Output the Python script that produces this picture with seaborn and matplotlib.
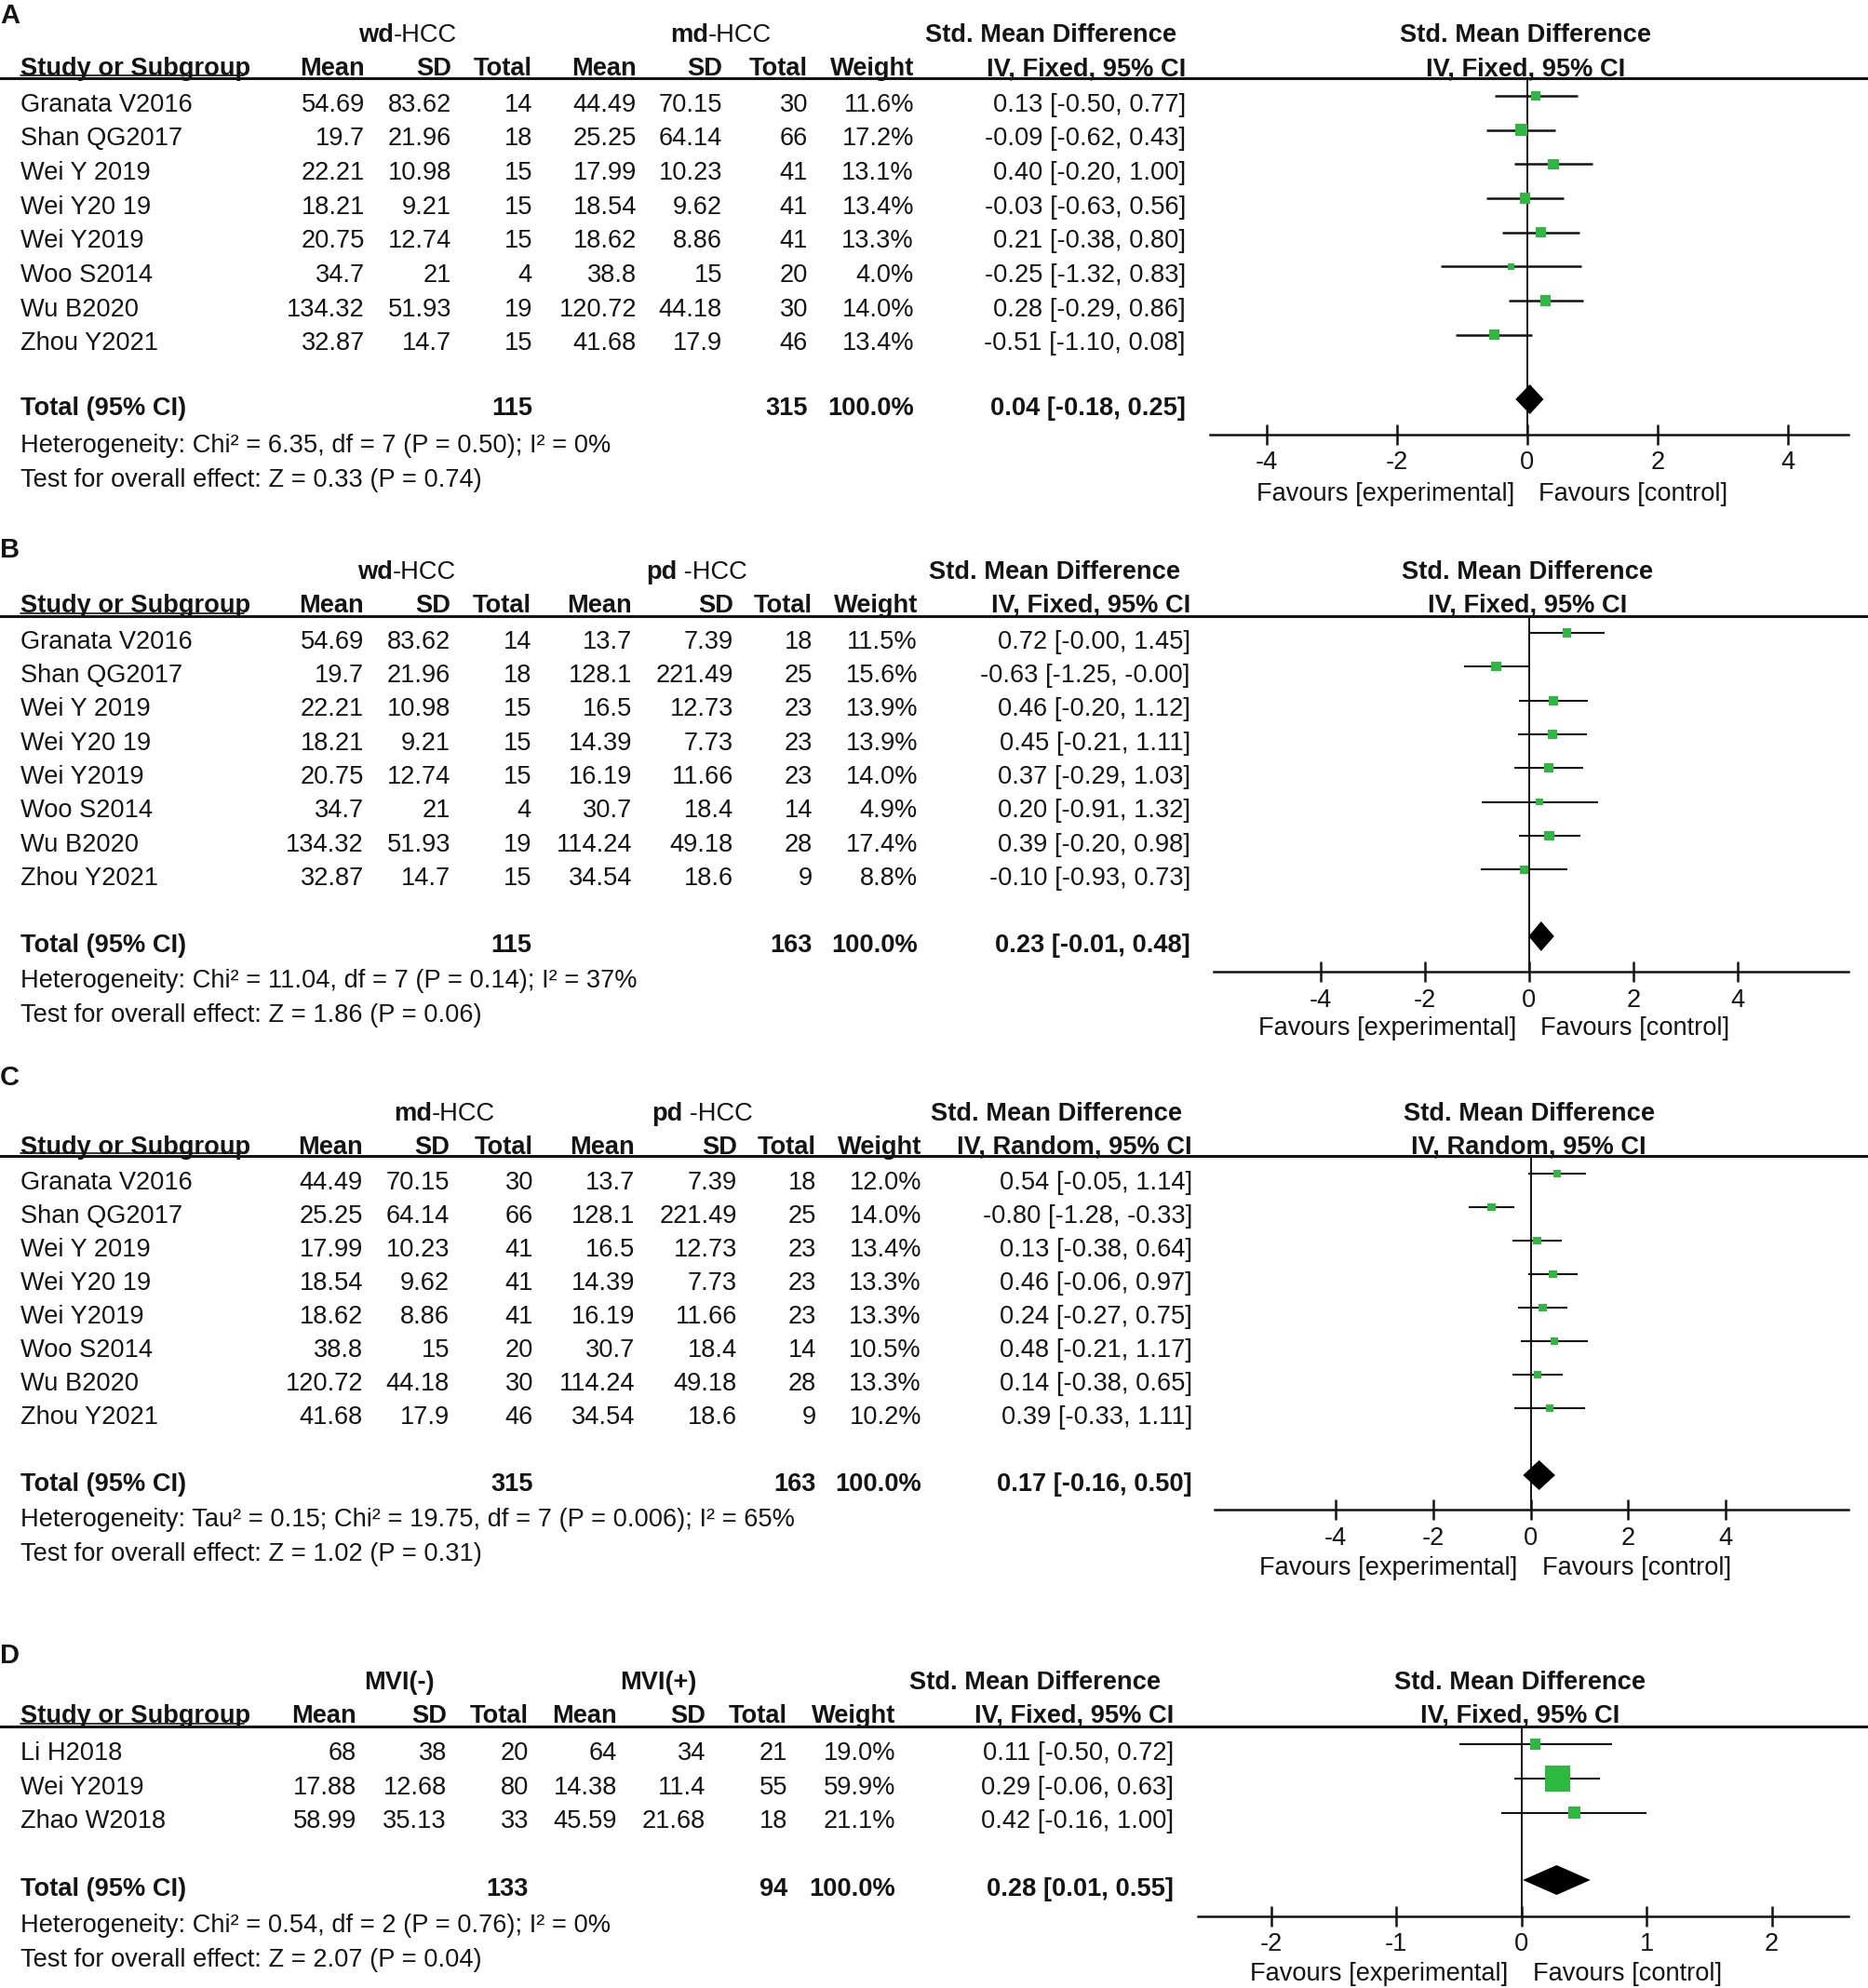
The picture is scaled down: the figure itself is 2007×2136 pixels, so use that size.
import numpy as np
import pandas as pd
import seaborn as sns
import matplotlib.pyplot as plt

sns.set_theme(style="white")
plt.rcParams["font.family"] = ["Liberation Sans", "DejaVu Sans"]
plt.rcParams["axes.unicode_minus"] = False

# ---------------- data ----------------
studies = ["Granata V2016", "Shan QG2017", "Wei Y 2019", "Wei Y20 19",
           "Wei Y2019", "Woo S2014", "Wu B2020", "Zhou Y2021"]

wd_mean = [54.69, 19.7, 22.21, 18.21, 20.75, 34.7, 134.32, 32.87]
wd_sd = [83.62, 21.96, 10.98, 9.21, 12.74, 21, 51.93, 14.7]
wd_n = [14, 18, 15, 15, 15, 4, 19, 15]

md_mean = [44.49, 25.25, 17.99, 18.54, 18.62, 38.8, 120.72, 41.68]
md_sd = [70.15, 64.14, 10.23, 9.62, 8.86, 15, 44.18, 17.9]
md_n = [30, 66, 41, 41, 41, 20, 30, 46]

pd_mean = [13.7, 128.1, 16.5, 14.39, 16.19, 30.7, 114.24, 34.54]
pd_sd = [7.39, 221.49, 12.73, 7.73, 11.66, 18.4, 49.18, 18.6]
pd_n = [18, 25, 23, 23, 23, 14, 28, 9]

# A: wd vs md
a_weight = [11.6, 17.2, 13.1, 13.4, 13.3, 4.0, 14.0, 13.4]
a_smd = [0.13, -0.09, 0.40, -0.03, 0.21, -0.25, 0.28, -0.51]
a_lo = [-0.50, -0.62, -0.20, -0.63, -0.38, -1.32, -0.29, -1.10]
a_hi = [0.77, 0.43, 1.00, 0.56, 0.80, 0.83, 0.86, 0.08]
a_total = [0.04, -0.18, 0.25]
a_het = "Heterogeneity: Chi\u00b2 = 6.35, df = 7 (P = 0.50); I\u00b2 = 0%"
a_test = "Test for overall effect: Z = 0.33 (P = 0.74)"

# B: wd vs pd
b_weight = [11.5, 15.6, 13.9, 13.9, 14.0, 4.9, 17.4, 8.8]
b_smd = [0.72, -0.63, 0.46, 0.45, 0.37, 0.20, 0.39, -0.10]
b_lo = [-0.0, -1.25, -0.20, -0.21, -0.29, -0.91, -0.20, -0.93]
b_hi = [1.45, -0.0, 1.12, 1.11, 1.03, 1.32, 0.98, 0.73]
b_total = [0.23, -0.01, 0.48]
b_het = "Heterogeneity: Chi\u00b2 = 11.04, df = 7 (P = 0.14); I\u00b2 = 37%"
b_test = "Test for overall effect: Z = 1.86 (P = 0.06)"

# C: md vs pd
c_weight = [12.0, 14.0, 13.4, 13.3, 13.3, 10.5, 13.3, 10.2]
c_smd = [0.54, -0.80, 0.13, 0.46, 0.24, 0.48, 0.14, 0.39]
c_lo = [-0.05, -1.28, -0.38, -0.06, -0.27, -0.21, -0.38, -0.33]
c_hi = [1.14, -0.33, 0.64, 0.97, 0.75, 1.17, 0.65, 1.11]
c_total = [0.17, -0.16, 0.50]
c_het = "Heterogeneity: Tau\u00b2 = 0.15; Chi\u00b2 = 19.75, df = 7 (P = 0.006); I\u00b2 = 65%"
c_test = "Test for overall effect: Z = 1.02 (P = 0.31)"

# D: MVI(-) vs MVI(+)
d_studies = ["Li H2018", "Wei Y2019", "Zhao W2018"]
mvin_mean = [68, 17.88, 58.99]
mvin_sd = [38, 12.68, 35.13]
mvin_n = [20, 80, 33]
mvip_mean = [64, 14.38, 45.59]
mvip_sd = [34, 11.4, 21.68]
mvip_n = [21, 55, 18]
d_weight = [19.0, 59.9, 21.1]
d_smd = [0.11, 0.29, 0.42]
d_lo = [-0.50, -0.06, -0.16]
d_hi = [0.72, 0.63, 1.00]
d_total = [0.28, 0.01, 0.55]
d_het = "Heterogeneity: Chi\u00b2 = 0.54, df = 2 (P = 0.76); I\u00b2 = 0%"
d_test = "Test for overall effect: Z = 2.07 (P = 0.04)"

# ---------------- figure ----------------
W, H = 2008, 2136
INK = "#141414"
GREEN = "#2db83f"
FS = 19.6
CAP = 9.7

fig = plt.figure(figsize=(W / 100, H / 100), dpi=100)
bg = fig.add_axes([0, 0, 1, 1])
bg.set_xlim(0, W)
bg.set_ylim(H, 0)
bg.axis("off")


def txt(x, y, s, ha="right", bold=False, size=FS):
    bg.text(x, y + CAP, s, ha=ha, va="baseline", fontsize=size,
            fontweight="bold" if bold else "normal", color=INK)


def num(v):
    return f"{v:g}"


def panel(lay, names, g1, g2, weight, smd, lo, hi, total, het, test):
    cols = lay["cols"]
    n = len(names)
    # panel letter and headers
    txt(0, lay["label_y"], lay["label"], ha="left", bold=True, size=21)
    for split in (lay["g1"], lay["g2"]):
        if len(split) == 2:
            txt(split[0], lay["group_y"], split[1], ha="center", bold=True)
        else:
            txt(split[0], lay["group_y"], split[1], ha="right", bold=True)
            txt(split[0], lay["group_y"], split[2], ha="left")
    txt(lay["smd_x"], lay["group_y"], "Std. Mean Difference", ha="center", bold=True)
    txt(22, lay["col_y"], "Study or Subgroup", ha="left", bold=True)
    for x, h in zip(cols, ["Mean", "SD", "Total", "Mean", "SD", "Total", "Weight",
                           lay["method"]]):
        txt(x, lay["col_y"], h, bold=True)
    bg.plot([22, 262], [lay["line_y"] - 3] * 2, color=INK, lw=1.2)
    bg.plot([0, W], [lay["line_y"]] * 2, color=INK, lw=2.2)

    # rows
    for i in range(n):
        y = lay["row0"] + i * lay["sp"]
        txt(22, y, names[i], ha="left")
        vals = [num(g1[0][i]), num(g1[1][i]), str(g1[2][i]),
                num(g2[0][i]), num(g2[1][i]), str(g2[2][i]),
                f"{weight[i]:.1f}%", f"{smd[i]:.2f} [{lo[i]:.2f}, {hi[i]:.2f}]"]
        for x, v in zip(cols, vals):
            txt(x, y, v)

    ty = lay["total_y"]
    txt(22, ty, "Total (95% CI)", ha="left", bold=True)
    txt(cols[2], ty, str(sum(g1[2])), bold=True)
    txt(cols[5], ty, str(sum(g2[2])), bold=True)
    txt(cols[6], ty, f"{sum(weight):.1f}%", bold=True)
    txt(cols[7], ty, f"{total[0]:.2f} [{total[1]:.2f}, {total[2]:.2f}]", bold=True)
    txt(22, lay["het_y"], het, ha="left")
    txt(22, lay["test_y"], test, ha="left")

    # forest plot
    x0, x1 = lay["fx"]
    top, bot = lay["line_y"], lay["axis_y"]
    ax = fig.add_axes([x0 / W, 1 - bot / H, (x1 - x0) / W, (bot - top) / H])
    ax.patch.set_alpha(0)
    sp = lay["sp"]
    mrow0 = lay["row0"] - 7
    df = pd.DataFrame({"smd": smd, "lo": lo, "hi": hi, "weight": weight,
                       "row": np.arange(n)})
    ax.axvline(0, color=INK, lw=1.4, zorder=1)
    ax.hlines(df["row"], df["lo"], df["hi"], color=INK, lw=lay["ci_lw"], zorder=2)
    sns.scatterplot(data=df, x="smd", y="row", size="weight",
                    sizes=lay["sizes"], size_norm=lay["size_norm"],
                    marker="s", color=GREEN, linewidth=0, legend=False,
                    ax=ax, zorder=3)
    ti = (ty - lay["row0"]) / sp
    hh = 16 / sp
    ax.fill([total[1], total[0], total[2], total[0]],
            [ti, ti - hh, ti, ti + hh], color="black", lw=0, zorder=4)
    ax.set_xlim(*lay["xlim"])
    ax.set_ylim((bot - mrow0) / sp, (top - mrow0) / sp)
    ax.set_xticks(lay["ticks"])
    ax.set_xticklabels([f"{t:g}" for t in lay["ticks"]])
    ax.set_yticks([])
    ax.set_xlabel("")
    ax.set_ylabel("")
    for s in ("top", "left", "right"):
        ax.spines[s].set_visible(False)
    ax.spines["bottom"].set_color(INK)
    ax.spines["bottom"].set_linewidth(1.8)
    ax.tick_params(axis="x", direction="inout", length=15.8, width=1.8,
                   color=INK, labelsize=FS, labelcolor=INK, pad=4.7, bottom=True)

    off = lay["fav_off"] + CAP
    ax.annotate("Favours [experimental]", xy=(0, 0), xycoords=("data", "axes fraction"),
                xytext=(-14, -off), textcoords="offset pixels", ha="right",
                va="baseline", fontsize=FS, color=INK)
    ax.annotate("Favours [control]", xy=(0, 0), xycoords=("data", "axes fraction"),
                xytext=(12, -off), textcoords="offset pixels", ha="left",
                va="baseline", fontsize=FS, color=INK)
    for yy, s in ((lay["group_y"], "Std. Mean Difference"),
                  (lay["col_y"], lay["method"])):
        ax.annotate(s, xy=(0, 1), xycoords=("data", "axes fraction"),
                    xytext=(-2, -(yy - top) - CAP), textcoords="offset pixels",
                    ha="center", va="baseline", fontsize=FS, fontweight="bold",
                    color=INK)


lay_a = dict(label="A", label_y=15, group_y=35, col_y=71.5, line_y=84, row0=110,
             sp=36.67, total_y=436, het_y=476, test_y=513, axis_y=467,
             cols=[392, 485, 572, 684, 776, 868, 982, 1274],
             g1=(423, "wd", "-HCC"), g2=(761, "md", "-HCC"), smd_x=1129,
             fx=(1300, 1986), xlim=(-4.87, 4.93), ticks=[-4, -2, 0, 2, 4],
             sizes=(14, 404), size_norm=(0, 100), ci_lw=1.8, fav_off=61,
             method="IV, Fixed, 95% CI")
lay_b = dict(label="B", label_y=589, group_y=612, col_y=648, line_y=662, row0=687,
             sp=36.35, total_y=1013, het_y=1051, test_y=1088, axis_y=1044,
             cols=[391, 484, 571, 679, 788, 873, 986, 1279],
             g1=(422, "wd", "-HCC"), g2=(727, "pd", " -HCC"), smd_x=1133,
             fx=(1304, 1986), xlim=(-6.05, 6.125), ticks=[-4, -2, 0, 2, 4],
             sizes=(16, 265), size_norm=(0, 100), ci_lw=1.5, fav_off=58,
             method="IV, Fixed, 95% CI")
lay_c = dict(label="C", label_y=1156, group_y=1194, col_y=1230, line_y=1242, row0=1268,
             sp=36.0, total_y=1592, het_y=1630, test_y=1667, axis_y=1622,
             cols=[390, 483, 573, 682, 792, 877, 990, 1281],
             g1=(464, "md", "-HCC"), g2=(733, "pd", " -HCC"), smd_x=1135,
             fx=(1305, 1986), xlim=(-6.49, 6.52), ticks=[-4, -2, 0, 2, 4],
             sizes=(16, 190), size_norm=(0, 100), ci_lw=1.5, fav_off=60,
             method="IV, Random, 95% CI")
lay_d = dict(label="D", label_y=1777, group_y=1805, col_y=1841, line_y=1855, row0=1881,
             sp=36.9, total_y=2027, het_y=2066, test_y=2103, axis_y=2059,
             cols=[383, 480, 568, 663, 758, 846, 962, 1261],
             g1=(429, "MVI(-)"), g2=(707, "MVI(+)"), smd_x=1112,
             fx=(1287, 1986), xlim=(-2.588, 2.613), ticks=[-2, -1, 0, 1, 2],
             sizes=(0, 700), size_norm=(10.1, 100), ci_lw=1.5, fav_off=59,
             method="IV, Fixed, 95% CI")

panel(lay_a, studies, (wd_mean, wd_sd, wd_n), (md_mean, md_sd, md_n),
      a_weight, a_smd, a_lo, a_hi, a_total, a_het, a_test)
panel(lay_b, studies, (wd_mean, wd_sd, wd_n), (pd_mean, pd_sd, pd_n),
      b_weight, b_smd, b_lo, b_hi, b_total, b_het, b_test)
panel(lay_c, studies, (md_mean, md_sd, md_n), (pd_mean, pd_sd, pd_n),
      c_weight, c_smd, c_lo, c_hi, c_total, c_het, c_test)
panel(lay_d, d_studies, (mvin_mean, mvin_sd, mvin_n), (mvip_mean, mvip_sd, mvip_n),
      d_weight, d_smd, d_lo, d_hi, d_total, d_het, d_test)

fig.savefig("out.png", dpi=100, facecolor="white")
